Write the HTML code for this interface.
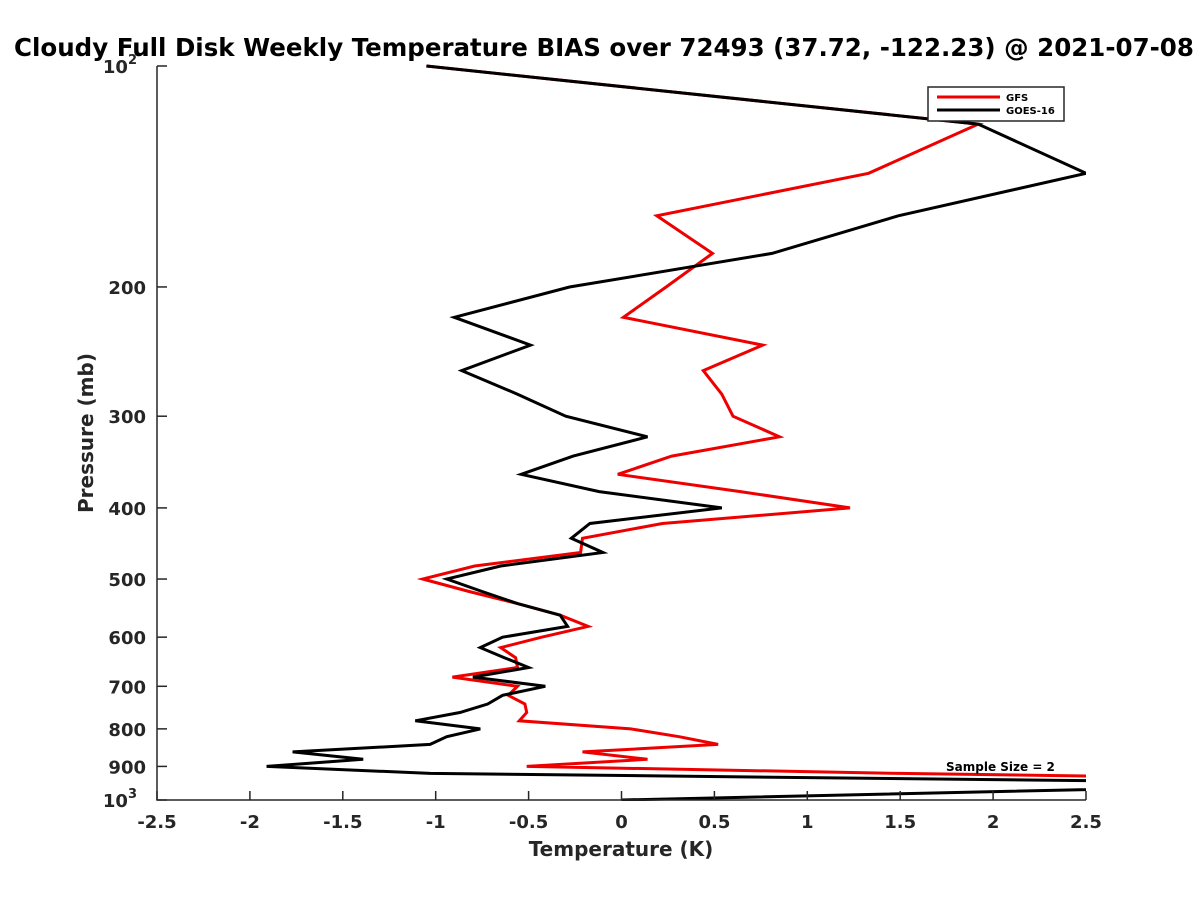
<!DOCTYPE html>
<html><head><meta charset="utf-8"><style>
html,body{margin:0;padding:0;background:#fff;width:1200px;height:900px;overflow:hidden}
svg{display:block}
text{font-family:"DejaVu Sans","Liberation Sans",sans-serif;font-weight:bold}
</style></head><body>
<svg id="chart" width="1200" height="900" viewBox="0 0 1200 900" xmlns="http://www.w3.org/2000/svg">
<text x="14" y="56" font-size="24.5" fill="#000">Cloudy Full Disk Weekly Temperature BIAS over 72493 (37.72, -122.23) @ 2021-07-08</text>
<defs><clipPath id="plotclip"><rect x="157" y="60" width="929" height="741"/></clipPath></defs>
<g id="series" clip-path="url(#plotclip)"></g>
<g id="axes"></g>
<text x="621" y="856" font-size="20" fill="#262626" text-anchor="middle">Temperature (K)</text>
<text transform="translate(93,433) rotate(-90)" font-size="20" fill="#262626" text-anchor="middle">Pressure (mb)</text>
<g>
<rect x="928" y="87" width="136" height="34" fill="#fff" stroke="#262626" stroke-width="1.5"/>
<line x1="937" y1="97" x2="1000" y2="97" stroke="#e00" stroke-width="3"/>
<text x="1006" y="101" font-size="10" fill="#000">GFS</text>
<line x1="937" y1="110" x2="1000" y2="110" stroke="#000" stroke-width="3"/>
<text x="1006" y="114" font-size="10" fill="#000">GOES-16</text>
</g>
<text x="946" y="771" font-size="12" fill="#000">Sample Size = 2</text>
</svg>
<script>
const gfsPressure = [100,120,140,160,180,200,220,240,260,280,300,320,340,360,380,400,420,440,460,480,500,520,540,560,580,600,620,640,660,680,700,720,740,760,780,800,820,840,860,880,900,920,950];
const gfsTemp = [-1.05,1.92,1.33,0.19,0.49,0.24,0.01,0.76,0.44,0.54,0.60,0.85,0.27,-0.02,0.64,1.23,0.22,-0.21,-0.22,-0.79,-1.07,-0.82,-0.56,-0.33,-0.18,-0.43,-0.65,-0.57,-0.56,-0.91,-0.56,-0.61,-0.52,-0.51,-0.55,0.05,0.31,0.52,-0.21,0.14,-0.51,1.5,5.5];
const goesPressure = [100,120,140,160,180,200,220,240,260,280,300,320,340,360,380,400,420,440,460,480,500,520,540,560,580,600,620,640,660,680,700,720,740,760,780,800,820,840,860,880,900,920,950,1000];
const goesTemp = [-1.05,1.92,2.5,1.49,0.81,-0.28,-0.90,-0.49,-0.86,-0.56,-0.30,0.14,-0.26,-0.54,-0.12,0.54,-0.17,-0.27,-0.10,-0.65,-0.94,-0.75,-0.56,-0.33,-0.29,-0.64,-0.76,-0.63,-0.50,-0.80,-0.41,-0.64,-0.72,-0.87,-1.11,-0.76,-0.94,-1.03,-1.77,-1.39,-1.91,-1.03,3.94,0];
const xTicks = [-2.5,-2,-1.5,-1,-0.5,0,0.5,1,1.5,2,2.5];
const xTickLabels = ["-2.5","-2","-1.5","-1","-0.5","0","0.5","1","1.5","2","2.5"];
const yTicks = [100,200,300,400,500,600,700,800,900,1000];
const yTickLabels = ["10^2","200","300","400","500","600","700","800","900","10^3"];

const NS="http://www.w3.org/2000/svg";
const X0=157,X1=1086,Y0=66,Y1=800,XMIN=-2.5,XMAX=2.5;
function xs(v){return X0+(v-XMIN)/(XMAX-XMIN)*(X1-X0);}
function ys(p){return Y0+(Math.log10(p)-2)*(Y1-Y0);}
function mk(t,a,parent){const e=document.createElementNS(NS,t);for(const k in a)e.setAttribute(k,a[k]);parent.appendChild(e);return e;}
const series=document.getElementById('series');
const axes=document.getElementById('axes');

function drawLine(ps,ts,color,name){
  const pts=ps.map((p,i)=>xs(ts[i]).toFixed(1)+','+ys(p).toFixed(1)).join(' ');
  const pl=mk('polyline',{points:pts,fill:'none',stroke:color,'stroke-width':3,'stroke-linejoin':'miter'},series);
  
  
}
drawLine(gfsPressure,gfsTemp,'#e00','gfs-line');
drawLine(goesPressure,goesTemp,'#000','goes16-line');

const ax=mk('path',{d:`M${X0},${Y0} L${X0},${Y1} L${X1},${Y1}`,fill:'none',stroke:'#262626','stroke-width':1.5},axes);


xTicks.forEach((v,i)=>{
  const x=xs(v);
  mk('line',{x1:x,y1:Y1,x2:x,y2:Y1-9,stroke:'#262626','stroke-width':1.5},axes);
  const t=mk('text',{x:x,y:828,'font-size':18,fill:'#262626','text-anchor':'middle'},axes);
  t.textContent=xTickLabels[i];
  
  
});
yTicks.forEach((p,i)=>{
  const y=ys(p);
  mk('line',{x1:X0,y1:y,x2:X0+10,y2:y,stroke:'#262626','stroke-width':1.5},axes);
  const lab=yTickLabels[i];
  const t=mk('text',{x:146,y:y+7,'font-size':18,fill:'#262626','text-anchor':'end'},axes);
  if(lab.indexOf('^')>=0){
    const [b,e]=lab.split('^');
    t.setAttribute('x',137);
    t.textContent=b;
    const s=mk('tspan',{dy:-9,'font-size':13},t);
    s.textContent=e;
  } else t.textContent=lab;
  
  
});
</script>
</body></html>
